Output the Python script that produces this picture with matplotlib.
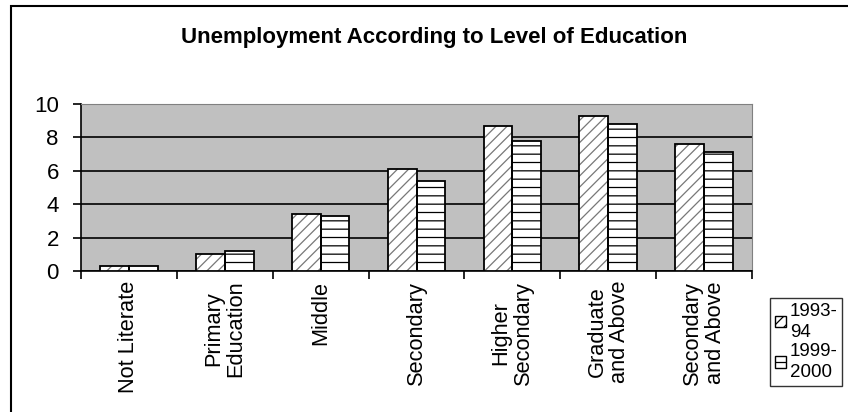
import numpy as np
import matplotlib.pyplot as plt
from matplotlib.patches import Rectangle, Patch

plt.rcParams['font.family'] = ['Liberation Sans', 'DejaVu Sans']
plt.rcParams['hatch.linewidth'] = 0.9

# data
categories = ['Not Literate', 'Primary\nEducation', 'Middle', 'Secondary',
              'Higher\nSecondary', 'Graduate\nand Above', 'Secondary\nand Above']
y1993 = [0.3, 1.0, 3.4, 6.1, 8.7, 9.3, 7.6]
y1999 = [0.3, 1.2, 3.3, 5.4, 7.8, 8.8, 7.1]
series_names = ['1993-\n94', '1999-\n2000']

fig = plt.figure(figsize=(8.48, 4.12), dpi=100)
ax = fig.add_axes([81/848, 1-271/412, (752-81)/848, (271-104)/412])

x = np.arange(len(categories))
w = 0.3
# hatched fills (hatch takes the edge colour), then black outlines on top
ax.bar(x - w/2, y1993, w, color='white', edgecolor='#777777', linewidth=0,
       hatch='///', zorder=3)
ax.bar(x - w/2, y1993, w, fill=False, edgecolor='black', linewidth=1.3, zorder=4)
ax.bar(x + w/2, y1999, w, color='white', edgecolor='black', linewidth=1.3,
       hatch='--', zorder=3)

ax.set_facecolor('#c0c0c0')
ax.set_xlim(-0.5, len(categories) - 0.5)
ax.set_ylim(0, 10)
ax.set_yticks(range(0, 11, 2))
ax.yaxis.grid(True, color='black', linewidth=1.2, zorder=1)
ax.set_axisbelow(True)
ax.set_xticks(np.arange(len(categories) + 1) - 0.5)
ax.set_xticklabels([])
ax.set_xticks(x, minor=True)
ax.set_xticklabels(categories, minor=True, rotation=90, va='top', ha='center',
                   fontsize=15.7, linespacing=1.1)
ax.tick_params(axis='x', which='minor', length=0, pad=7)
ax.tick_params(axis='x', which='major', length=6, width=1.2, direction='out')
ax.tick_params(axis='y', length=6, width=1.2, labelsize=16, pad=10)
ax.spines['left'].set_linewidth(1.2)
ax.spines['bottom'].set_linewidth(1.2)
ax.spines['top'].set_color('#808080')
ax.spines['right'].set_color('#808080')

fig.text(434/848, 1-37/412, 'Unemployment According to Level of Education',
         ha='center', va='center', fontsize=16, fontweight='bold')

# outer chart frame
fig.patches.append(Rectangle((11/848, -0.1), 2, 1.1 - 6/412, transform=fig.transFigure,
                             fill=False, edgecolor='black', linewidth=1.5))

handles = [Patch(facecolor='white', edgecolor='black', hatch='///'),
           Patch(facecolor='white', edgecolor='black', hatch='--')]
leg = fig.legend(handles, series_names, loc='upper left', bbox_to_anchor=(770/848, 1-298/412),
                 fontsize=13.5, frameon=True, fancybox=False, edgecolor='black',
                 handlelength=0.6, handleheight=0.6, handletextpad=0.2, borderpad=0.25,
                 labelspacing=0.15, borderaxespad=0)
for t in leg.get_texts():
    t.set_linespacing(1.3)

fig.savefig('out.png', dpi=100)
